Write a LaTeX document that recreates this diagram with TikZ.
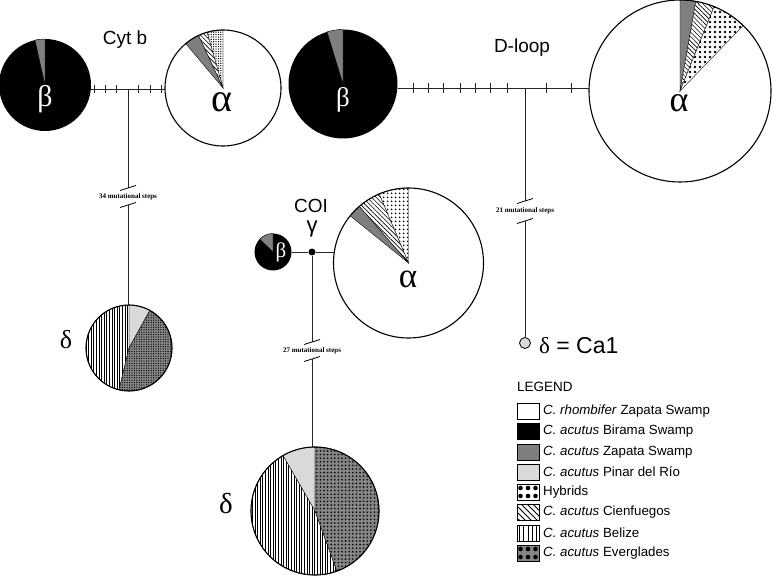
\documentclass[tikz,border=0pt]{standalone}
\usepackage{fontspec}
\setmainfont{Liberation Sans}
\newfontfamily\grkfont{Liberation Serif}
\newfontfamily\gsfont{Liberation Sans}
\usetikzlibrary{patterns.meta}
\definecolor{zgray}{HTML}{7F7F7F}
\definecolor{lgray}{HTML}{D9D9D9}
\definecolor{egray}{HTML}{858585}
\newcommand{\pieslice}[5]{\path[#5] (#1.center) -- ++(#3:#2pt) arc[start angle=#3, end angle=#4, radius=#2pt] -- cycle;}
\begin{document}
\begin{tikzpicture}[x=1pt,y=1pt,
  conn/.style={line width=0.9pt, draw=black!85},
  ring/.style={line width=1.1pt},
  pienode/.style={circle, inner sep=0pt, outer sep=0pt, minimum size=#1},
  slice/.style={draw=black, line width=0.35pt},
  zap/.style={slice, fill=zgray},
  pin/.style={slice, fill=lgray},
  hybA/.style={slice, preaction={fill=white}, pattern={Dots[distance=2.4pt, radius=0.7pt]}},
  hybB/.style={slice, preaction={fill=white}, pattern={Dots[distance=5pt, radius=1.4pt]}},
  hybC/.style={slice, preaction={fill=white}, pattern={Dots[distance=4pt, radius=1.15pt]}},
  cien/.style={slice, preaction={fill=white}, pattern={Lines[angle=-45, distance=3.2pt, line width=0.6pt]}},
  bel/.style={slice, preaction={fill=white}, pattern={Lines[angle=90, distance=2.6pt, line width=0.5pt]}},
  evgA/.style={slice, preaction={fill=egray}, pattern={Dots[distance=2.4pt, radius=0.65pt]}},
  evgB/.style={slice, preaction={fill=egray}, pattern={Dots[distance=3.6pt, radius=0.9pt]}},
  glbl/.style={anchor=base, inner sep=0pt, font=\grkfont\fontsize{#1}{#1}\selectfont},
  wglbl/.style={glbl=#1, text=white},
  title/.style={inner sep=0pt, font=\fontsize{19}{19}\selectfont},
  stepslbl/.style={inner sep=0pt, font=\grkfont\bfseries\fontsize{7}{7}\selectfont},
  brk/.style={line width=0.8pt},
  lbox/.style={rectangle, draw, line width=0.6pt, minimum width=22pt, minimum height=16pt, inner sep=0pt},
  ltext/.style={anchor=west, inner sep=0pt, font=\fontsize{13.3}{14}\selectfont},
  bigdots/.style={path picture={\foreach \dx in {-7.5,0,7.5} \foreach \dy in {-4,4} \fill[black] ([shift={(\dx,\dy)}]path picture bounding box.center) circle[radius=2.3pt];}},
  vlines/.style={path picture={\foreach \dx in {-8.4,-4.2,0,4.2,8.4} \draw[black, line width=0.8pt] ([shift={(\dx,-9)}]path picture bounding box.center) -- ++(0,18);}}
]
\path[use as bounding box, fill=white] (0,0) rectangle (773,-577);

% ---------------- Cyt b ----------------
\coordinate (cbJ) at (128,-89);
\coordinate (cbU) at (128,-188);
\coordinate (cbL) at (128,-205);
\node[pienode=92pt, fill=black] (cbB) at (45,-85) {};
\node[pienode=116pt, fill=white] (cbA) at (223,-88) {};
\node[pienode=86pt] (cbD) at (129,-348) {};
\draw[conn] (cbB.east |- cbJ) -- (cbA.west |- cbJ);
\foreach \d in {-34,-23,-12,10,22,33} \draw[conn] ([shift={(\d,4)}]cbJ) -- ++(0,-8);
\draw[conn] (cbJ) -- (cbU);
\draw[conn] (cbL) -- (cbL |- cbD.north);
\draw[brk] ([shift={(-8,-2.5)}]cbU) -- ([shift={(8,2.5)}]cbU);
\draw[brk] ([shift={(-8,-2.5)}]cbL) -- ([shift={(8,2.5)}]cbL);
\node[stepslbl] (cbS) at (128,-197) {34 mutational steps};
\pieslice{cbB}{46}{90}{102.6}{zap}
\pieslice{cbA}{58}{90}{106}{hybA}
\pieslice{cbA}{58}{106}{115}{cien}
\pieslice{cbA}{58}{115}{130}{zap}
\draw[ring] (cbA.center) circle[radius=58pt];
\pieslice{cbD}{43}{61}{90}{pin}
\pieslice{cbD}{43}{90}{256.6}{bel}
\pieslice{cbD}{43}{-103.4}{61}{evgA}
\draw[ring] (cbD.center) circle[radius=43pt];
\node[title] (cbT) at (125,-40) {Cyt b};
\node[wglbl=30] (cbBl) at (45,-107) {β};
\node[glbl=40] (cbAl) at (222,-112) {α};
\node[glbl=26] (cbDl) at (66,-348) {δ};

% ---------------- D-loop ----------------
\coordinate (dlJ) at (525,-88);
\coordinate (dlU) at (525,-201);
\coordinate (dlL) at (525,-221);
\node[pienode=109pt, fill=black] (dlB) at (343,-84) {};
\node[pienode=182pt, fill=white] (dlA) at (680,-91) {};
\draw[conn] (dlB.east |- dlJ) -- (dlA.west |- dlJ);
\foreach \d in {-112,-97,-82,-65,-50,-35,-18,21,46} \draw[conn] ([shift={(\d,5)}]dlJ) -- ++(0,-10);
\node[circle, draw, line width=0.8pt, fill=lgray, minimum size=11pt, inner sep=0pt] (dlD) at (525,-343) {};
\draw[conn] (dlJ) -- (dlU);
\draw[conn] (dlL) -- (dlD.north);
\draw[brk] ([shift={(-8,-2.5)}]dlU) -- ([shift={(8,2.5)}]dlU);
\draw[brk] ([shift={(-8,-2.5)}]dlL) -- ([shift={(8,2.5)}]dlL);
\node[stepslbl] (dlS) at (525,-211) {21 mutational steps};
\pieslice{dlB}{54.5}{90}{107}{zap}
\pieslice{dlA}{91}{80}{90}{zap}
\pieslice{dlA}{91}{68}{80}{cien}
\pieslice{dlA}{91}{46}{68}{hybB}
\draw[ring] (dlA.center) circle[radius=91pt];
\node[title] (dlT) at (522,-48) {D-loop};
\node[wglbl=27] (dlBl) at (343,-107) {β};
\node[glbl=36] (dlAl) at (679,-112) {α};
\node[anchor=base west, inner sep=0pt, font=\fontsize{23}{23}\selectfont] (dlDl) at (539,-353) {{\grkfont δ} = Ca1};

% ---------------- COI ----------------
\node[circle, fill=black, minimum size=7pt, inner sep=0pt] (coG) at (312,-252) {};
\coordinate (coU) at (312,-342);
\coordinate (coL) at (312,-359);
\node[pienode=37pt, fill=black] (coB) at (273,-252) {};
\node[pienode=150pt, fill=white] (coA) at (408.5,-263) {};
\node[pienode=128pt] (coD) at (315,-511) {};
\draw[conn] (coB.east) -- (coG) -- (coA.west |- coG);
\draw[conn] (coG) -- (coU);
\draw[conn] (coL) -- (coL |- coD.north);
\draw[brk] ([shift={(-8,-2.5)}]coU) -- ([shift={(8,2.5)}]coU);
\draw[brk] ([shift={(-8,-2.5)}]coL) -- ([shift={(8,2.5)}]coL);
\node[stepslbl] (coS) at (312,-351) {27 mutational steps};
\pieslice{coB}{18.5}{90}{136}{zap}
\pieslice{coA}{75}{90}{113}{hybC}
\pieslice{coA}{75}{113}{131}{cien}
\pieslice{coA}{75}{131}{141}{zap}
\draw[ring] (coA.center) circle[radius=75pt];
\pieslice{coD}{64}{90}{120}{pin}
\pieslice{coD}{64}{120}{290}{bel}
\pieslice{coD}{64}{-70}{90}{evgB}
\draw[ring] (coD.center) circle[radius=64pt];
\node[title] (coT) at (311,-205.5) {COI};
\node[anchor=base, inner sep=0pt, font=\gsfont\fontsize{22}{22}\selectfont] (coGl) at (312,-233) {γ};
\node[wglbl=21] (coBl) at (281,-258) {β};
\node[glbl=35] (coAl) at (408,-287) {α};
\node[glbl=29] (coDl) at (226,-513) {δ};

% ---------------- Legend ----------------
\node[anchor=west, inner sep=0pt, font=\fontsize{13.5}{14}\selectfont] (lgH) at (517,-387) {LEGEND};
\node[lbox, fill=white] (lb1) at (528,-411) {};
\node[lbox, fill=black] (lb2) at (528,-431) {};
\node[lbox, fill=zgray] (lb3) at (528,-452) {};
\node[lbox, fill=lgray] (lb4) at (528,-472) {};
\node[lbox, fill=white, bigdots] (lb5) at (528,-492) {};
\node[lbox, fill=white, path picture={\fill[black, pattern={Lines[angle=-45, distance=4.2pt, line width=0.9pt]}] (path picture bounding box.south west) rectangle (path picture bounding box.north east);}] (lb6) at (528,-512) {};
\node[lbox, fill=white, vlines] (lb7) at (528,-533) {};
\node[lbox, fill=egray, bigdots] (lb8) at (528,-553) {};
\node[ltext] (lt1) at (543,-411) {\textit{C. rhombifer} Zapata Swamp};
\node[ltext] (lt2) at (543,-431) {\textit{C. acutus} Birama Swamp};
\node[ltext] (lt3) at (543,-452) {\textit{C. acutus} Zapata Swamp};
\node[ltext] (lt4) at (543,-472) {\textit{C. acutus} Pinar del Río};
\node[ltext] (lt5) at (543,-492) {Hybrids};
\node[ltext] (lt6) at (543,-512) {\textit{C. acutus} Cienfuegos};
\node[ltext] (lt7) at (543,-533) {\textit{C. acutus} Belize};
\node[ltext] (lt8) at (543,-553) {\textit{C. acutus} Everglades};
\end{tikzpicture}
\end{document}
